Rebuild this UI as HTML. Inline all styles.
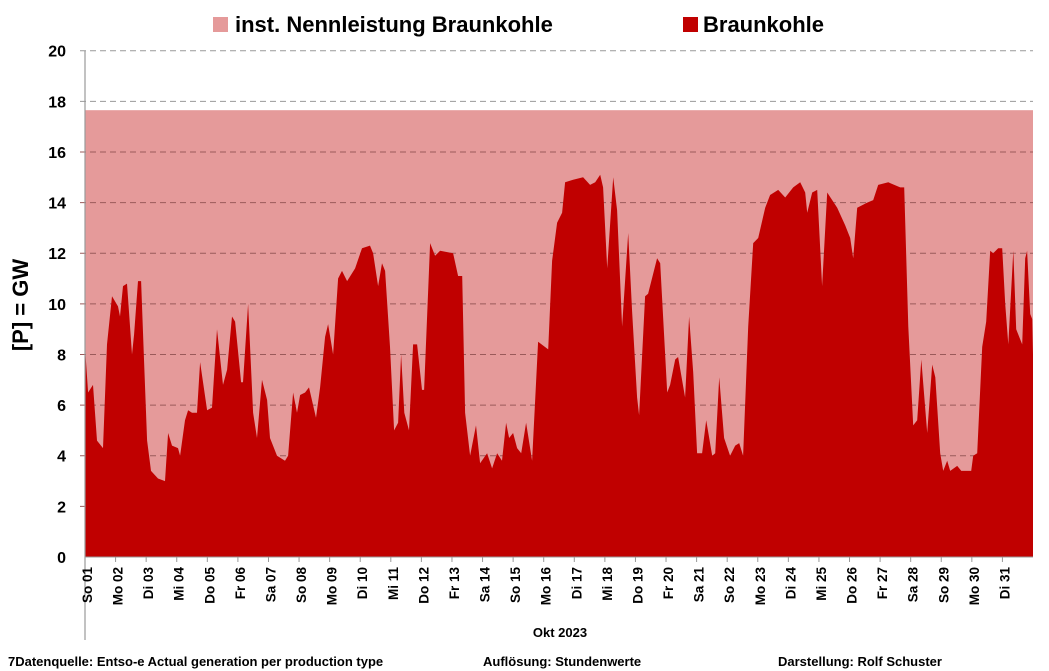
<!DOCTYPE html>
<html><head><meta charset="utf-8"><style>
body{margin:0;background:#fff;}
svg{display:block;font-family:"Liberation Sans",sans-serif;font-weight:bold;}
</style></head><body>
<svg id="chart" width="1049" height="671" viewBox="0 0 1049 671">
<g>
<rect x="213" y="17" width="15" height="15" fill="#e59a9a"/>
<text x="235" y="32" font-size="22">inst. Nennleistung Braunkohle</text>
<rect x="683" y="17" width="15" height="15" fill="#c00000"/>
<text x="703" y="32" font-size="22">Braunkohle</text>
</g>
<text transform="translate(28,305) rotate(-90)" text-anchor="middle" font-size="22">[P]  =  GW</text>
<g id="plot"></g>
<text x="560" y="637" text-anchor="middle" font-size="13">Okt 2023</text>
<text x="8" y="666" font-size="13">7Datenquelle: Entso-e  Actual generation per production type</text>
<text x="483" y="666" font-size="13">Auflösung: Stundenwerte</text>
<text x="778" y="666" font-size="13">Darstellung:  Rolf Schuster</text>
</svg>
<script>
const dayLabels=["So 01","Mo 02","Di 03","Mi 04","Do 05","Fr 06","Sa 07","So 08","Mo 09","Di 10","Mi 11","Do 12","Fr 13","Sa 14","So 15","Mo 16","Di 17","Mi 18","Do 19","Fr 20","Sa 21","So 22","Mo 23","Di 24","Mi 25","Do 26","Fr 27","Sa 28","So 29","Mo 30","Di 31"];
const yTicks=[0,2,4,6,8,10,12,14,16,18,20];
const capacity=17.65;
const hours=[0,2.4,6.3,9.4,14.1,17.3,21.2,25.9,27.5,29.8,33.0,36.9,38.5,41.6,44.0,46.3,48.7,51.8,57.3,62.8,65.2,68.3,73.0,74.6,78.5,80.9,84.0,87.9,90.3,95.8,99.7,103.6,108.3,111.5,115.4,117.8,122.5,124.0,128.0,131.9,135.0,138.9,142.9,145.2,150.7,157.0,159.4,163.3,166.4,168.8,172.7,175.8,181.3,184.5,188.4,190.8,194.7,198.6,201.7,205.7,212.0,217.4,223.7,226.1,230.0,233.1,235.5,239.4,242.6,245.7,248.1,250.6,254.3,257.5,260.6,264.5,266.1,270.8,274.8,278.7,288.9,292.8,296.0,298.3,302.2,306.9,310.1,315.6,319.5,323.4,327.3,330.5,332.8,336.0,339.1,342.3,346.2,350.9,355.6,363.5,366.6,370.5,374.4,376.8,383.1,390.9,396.4,400.4,404.3,406.6,409.8,414.5,417.6,421.5,426.3,429.4,433.3,434.9,439.6,441.9,449.0,451.4,456.9,459.2,463.2,465.5,471.0,474.1,477.3,480.4,484.3,487.5,492.2,494.6,497.7,501.6,506.3,510.3,513.4,516.5,520.5,524.4,528.3,533.8,537.7,544.0,549.5,555.8,561.3,565.2,566.8,570.7,574.6,578.5,582.5,590.3,596.6,600.5,602.9,606.0,613.9,618.6,622.5,630.4,639.8,642.9,646.1,650.0,653.1,656.3,661.0,664.9,667.3,671.2,673.5,676.7,679.0,684.5,687.7,690.8,695.5,697.1,700.2,704.1,707.3,710.4,712.8,716.7,719.8,722.2,724.6,728.5,730.8,735.5,737.9,739.4,741.8,743.4,744];
const lignite=[8.3,6.5,6.8,4.6,4.3,8.4,10.3,9.9,9.5,10.7,10.8,8.0,8.8,10.9,10.9,7.8,4.6,3.4,3.1,3.0,4.9,4.4,4.3,4.0,5.4,5.8,5.7,5.7,7.7,5.8,5.9,9.0,6.8,7.4,9.5,9.3,6.9,6.9,10.0,5.7,4.7,7.0,6.2,4.7,4.0,3.8,4.0,6.5,5.7,6.4,6.5,6.7,5.5,6.7,8.7,9.2,8.0,11.0,11.3,10.9,11.4,12.2,12.3,12.0,10.7,11.6,11.3,8.3,5.0,5.3,8.0,5.7,5.0,8.4,8.4,6.6,6.6,12.4,11.9,12.1,12.0,11.1,11.1,5.7,4.0,5.2,3.7,4.1,3.5,4.1,3.8,5.3,4.7,4.9,4.3,4.1,5.3,3.8,8.5,8.2,11.7,13.2,13.6,14.8,14.9,15.0,14.7,14.8,15.1,14.6,11.4,15.0,13.7,9.1,12.8,9.7,6.3,5.6,10.3,10.4,11.8,11.6,6.5,6.8,7.8,7.9,6.3,9.5,7.3,4.1,4.1,5.4,4.0,4.1,7.1,4.7,4.0,4.4,4.5,4.0,9.1,12.4,12.6,13.8,14.3,14.5,14.2,14.6,14.8,14.4,13.6,14.4,14.5,10.7,14.4,13.8,13.1,12.6,11.8,13.8,14.0,14.1,14.7,14.8,14.6,14.6,9.1,5.2,5.4,7.8,4.9,7.6,7.1,4.1,3.4,3.8,3.4,3.6,3.4,3.4,3.4,4.0,4.1,8.3,9.3,12.1,12.0,12.2,12.2,10.0,8.4,12.1,9.0,8.4,11.8,12.1,9.6,9.4,8.0];

const X0=85,X1=1033,Y0=557,Y20=50.7,H_TOTAL=744;
function xScale(h){return X0+(h/H_TOTAL)*(X1-X0);}
function yScale(v){return Y0-(v/20)*(Y0-Y20);}
const NS="http://www.w3.org/2000/svg";
const plot=document.getElementById('plot');
function mk(tag,attrs){const e=document.createElementNS(NS,tag);for(const k in attrs)e.setAttribute(k,attrs[k]);plot.appendChild(e);return e;}

const cap=mk('rect',{x:X0,y:yScale(capacity),width:X1-X0,height:Y0-yScale(capacity),fill:'#e59a9a'});



yTicks.forEach(v=>{
  const y=yScale(v);
  if(v>0){
    const g=mk('line',{x1:X0-5,x2:X1,y1:y,y2:y,stroke:v>capacity?'#999':'#9a5a5a','stroke-width':1,'stroke-dasharray':'6,4'});
    
    
  }
  const t=mk('text',{x:66,y:y+6,'text-anchor':'end','font-size':16});
  t.textContent=v;
  
  
});

let d='M'+xScale(hours[0])+','+Y0;
hours.forEach((h,i)=>{d+=' L'+xScale(h).toFixed(1)+','+yScale(lignite[i]).toFixed(1);});
d+=' L'+xScale(hours[hours.length-1])+','+Y0+' Z';
const area=mk('path',{d:d,fill:'#c00000'});



const ax=mk('line',{x1:X0,x2:X0,y1:Y20,y2:640,stroke:'#999','stroke-width':1.2});


const bx=mk('line',{x1:X0,x2:X1,y1:Y0,y2:Y0,stroke:'#999','stroke-width':1});



dayLabels.forEach((lab,i)=>{
  const x=xScale(i*24);
  const tk=mk('line',{x1:x,x2:x,y1:Y0,y2:Y0+5,stroke:'#999'});
  
  
  const t=mk('text',{transform:'translate('+(x+7)+',567) rotate(-90)','text-anchor':'end','font-size':13.5});
  t.textContent=lab;
  
  
});
</script>
</body></html>
